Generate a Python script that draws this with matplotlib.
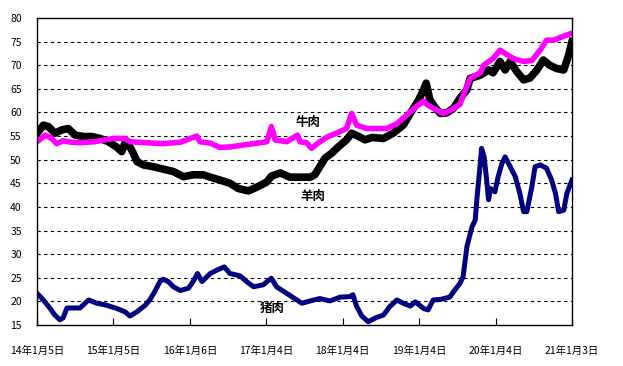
import matplotlib
matplotlib.use("Agg")
import matplotlib.pyplot as plt

plt.rcParams['font.family'] = ['Noto Sans CJK SC', 'DejaVu Sans']

# ============================================
# 数据 (x 为自 2014年1月 起的月数)
# ============================================
tick_pos = [0, 12, 24, 36, 48, 60, 72, 84]
tick_labels = ["14年1月5日", "15年1月5日", "16年1月6日", "17年1月4日",
               "18年1月4日", "19年1月4日", "20年1月4日", "21年1月3日"]

pork_m = [0, 1, 2, 2.8, 3.6, 4.1, 4.7, 5.7, 6.75, 8.1,
          9.4, 10.9, 12.5, 13.8, 14.6, 15.7, 17.0, 17.7, 18.5, 19.3,
          19.8, 20.6, 21.4, 22.5, 23.8, 24.5, 25.2, 25.9, 27.2, 28.2,
          29.4, 30.3, 31.9, 32.9, 34.0, 35.5, 36.8, 37.6, 39.2, 40.8,
          41.6, 42.9, 44.4, 46.0, 47.6, 49.1, 49.6, 50.2, 51.0, 52.0,
          53.3, 54.4, 55.4, 56.5, 57.5, 58.6, 59.4, 60.7, 61.4, 62.2,
          63.3, 64.8, 65.6, 66.4, 66.9, 67.5, 68.3, 68.8, 69.1, 69.6,
          69.8, 70.2, 70.6, 70.9, 71.2, 71.9, 72.4, 73.0, 73.5, 74.3,
          75.1, 75.8, 76.4, 76.9, 77.7, 78.2, 79.0, 80.0, 80.8, 81.4,
          81.9, 82.7, 83.2, 84.0]
pork_v = [21.7, 20.3, 18.6, 17.1, 16.1, 16.5, 18.6, 18.6, 18.6, 20.3,
          19.6, 19.2, 18.5, 17.8, 16.9, 17.8, 19.2, 20.3, 22.1, 24.2,
          24.7, 24.2, 23.1, 22.3, 22.8, 24.2, 25.9, 24.2, 25.9, 26.6,
          27.3, 25.9, 25.4, 24.2, 23.1, 23.5, 24.9, 23.1, 21.7, 20.3,
          19.6, 20.1, 20.6, 20.1, 20.9, 21.0, 21.4, 18.9, 16.9, 15.7,
          16.6, 17.1, 18.9, 20.3, 19.6, 19.0, 19.9, 18.5, 18.2, 20.3,
          20.4, 20.9, 22.4, 23.8, 25.2, 31.6, 35.8, 37.2, 42.2, 49.2,
          52.4, 50.6, 45.7, 41.5, 43.9, 43.2, 46.4, 49.2, 50.6, 48.5,
          46.4, 42.9, 39.0, 39.0, 44.3, 48.5, 48.9, 48.2, 45.7, 42.9,
          39.0, 39.3, 42.9, 45.7]

mutton_m = [0, 1, 1.8, 2.8, 3.9, 4.9, 6.0, 7.3, 8.6, 9.9,
            11.2, 12.5, 13.3, 13.8, 14.6, 15.1, 15.7, 16.7, 18.3, 19.8,
            21.4, 23.0, 24.5, 26.1, 27.2, 28.7, 30.3, 31.6, 33.2, 34.7,
            36.1, 36.8, 38.2, 39.7, 41.3, 42.9, 43.6, 44.4, 45.2, 46.3,
            47.3, 48.6, 49.4, 50.4, 51.5, 52.6, 54.4, 55.9, 57.5, 58.8,
            59.9, 60.7, 61.1, 61.7, 62.5, 63.3, 64.3, 65.4, 66.4, 67.5,
            68.0, 69.6, 70.9, 71.6, 72.7, 73.5, 74.3, 75.3, 76.4, 77.4,
            78.5, 79.5, 80.5, 81.6, 82.7, 83.4, 84.0]
mutton_v = [55.6, 57.3, 57.0, 55.6, 56.3, 56.6, 55.2, 54.9, 54.9, 54.5,
            53.8, 52.7, 51.7, 53.5, 52.7, 51.4, 49.6, 48.9, 48.5, 48.0,
            47.5, 46.4, 46.8, 46.8, 46.3, 45.7, 45.0, 43.9, 43.4, 44.3,
            45.3, 46.5, 47.2, 46.3, 46.3, 46.3, 46.8, 48.5, 50.3, 51.4,
            52.7, 54.2, 55.6, 55.0, 54.2, 54.7, 54.5, 55.6, 57.3, 60.2,
            62.6, 64.8, 66.2, 62.6, 61.1, 59.8, 59.9, 60.9, 63.0, 64.8,
            67.2, 67.9, 69.0, 68.4, 70.8, 69.0, 70.8, 68.7, 66.9, 67.3,
            69.0, 71.1, 70.0, 69.3, 69.0, 71.8, 75.0]

beef_m = [0, 1.3, 2.3, 3.1, 4.1, 5.4, 6.75, 9, 12, 13.8,
          14.6, 17, 19.8, 22.5, 25.1, 25.6, 27.2, 28.7, 30.3, 32.4,
          34.0, 36.1, 36.8, 37.4, 39.2, 40.9, 41.3, 42.3, 43.1, 44.4,
          45.7, 47.0, 48.6, 49.4, 50.2, 51.8, 53.4, 54.9, 56.5, 58.1,
          59.6, 60.7, 61.2, 62.2, 63.8, 65.0, 66.4, 67.2, 68.0, 69.6,
          70.1, 71.6, 72.7, 73.5, 74.8, 76.4, 77.7, 79.0, 80.0, 81.1,
          82.4, 84.0]
beef_v = [53.8, 55.2, 54.5, 53.4, 54.0, 53.7, 53.6, 53.8, 54.5, 54.5,
          53.8, 53.6, 53.4, 53.7, 55.0, 53.8, 53.5, 52.6, 52.7, 53.1,
          53.4, 53.8, 57.0, 54.2, 53.8, 55.2, 53.8, 53.6, 52.4, 53.8,
          54.9, 55.6, 56.6, 59.8, 57.3, 56.6, 56.6, 56.6, 57.6, 59.5,
          61.3, 62.4, 61.7, 60.9, 59.8, 60.5, 61.7, 64.5, 67.2, 68.4,
          70.0, 71.4, 73.2, 72.5, 71.4, 70.8, 71.0, 73.2, 75.3, 75.3,
          76.0, 76.8]


def main():
    fig = plt.figure(figsize=(6.23, 3.66), dpi=100)
    ax = fig.add_axes([37 / 623, 41 / 366, 535 / 623, 307 / 366])

    ax.plot(mutton_m, mutton_v, color="black", lw=5.5)
    ax.plot(beef_m, beef_v, color="#ff00ff", lw=4.0)
    ax.plot(pork_m, pork_v, color="#000080", lw=3.6)

    ax.set_xlim(0, 84)
    ax.set_ylim(15, 80)
    ax.set_yticks(range(15, 81, 5))
    ax.set_xticks(tick_pos)
    ax.set_xticklabels(tick_labels, fontsize=7.5)
    ax.tick_params(axis="x", direction="in", length=5, pad=15, color="black")
    ax.tick_params(axis="y", length=0, pad=11, labelsize=7.5)

    for v in range(20, 80, 5):
        ax.axhline(v, color="black", lw=0.8, ls=(0, (3, 3)), zorder=0)

    for s in ax.spines.values():
        s.set_color("black")
        s.set_linewidth(1.0)

    # 系列名称
    ax.text(42.5, 57.8, "牛肉", fontsize=9, fontweight="heavy", ha="center", va="center")
    ax.text(43.3, 42.3, "羊肉", fontsize=9, fontweight="heavy", ha="center", va="center")
    ax.text(36.9, 18.6, "猪肉", fontsize=9, fontweight="heavy", ha="center", va="center")

    fig.savefig("out.png", dpi=100)


if __name__ == "__main__":
    main()
